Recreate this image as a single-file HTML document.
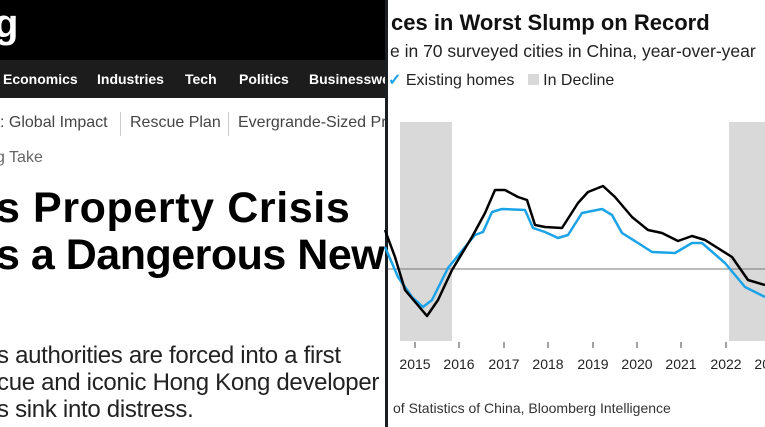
<!DOCTYPE html>
<html><head><style>
body{margin:0;width:765px;height:427px;overflow:hidden;background:#fff;font-family:"Liberation Sans",sans-serif;position:relative}
.a{position:absolute;white-space:nowrap}
</style></head><body>
<div class="a" style="left:0;top:0;width:386px;height:60px;background:#000"></div>
<div class="a" style="left:-6px;top:2px;color:#fff;font-size:40px;font-weight:bold">g</div>
<div class="a" style="left:0;top:60px;width:386px;height:38px;background:#1c1c1c"></div>
<div class="a" style="top:71px;left:3px;color:#fff;font-weight:bold;font-size:14px">Economics</div>
<div class="a" style="top:71px;left:97px;color:#fff;font-weight:bold;font-size:14px">Industries</div>
<div class="a" style="top:71px;left:185px;color:#fff;font-weight:bold;font-size:14px">Tech</div>
<div class="a" style="top:71px;left:239px;color:#fff;font-weight:bold;font-size:14px">Politics</div>
<div class="a" style="top:71px;left:309px;color:#fff;font-weight:bold;font-size:14px">Businesswe</div>
<div class="a" style="top:114px;left:0px;color:#444;font-size:16px">: Global Impact</div>
<div class="a" style="top:112px;left:120px;width:1px;height:24px;background:#ccc"></div>
<div class="a" style="top:114px;left:130px;color:#444;font-size:16px">Rescue Plan</div>
<div class="a" style="top:112px;left:228px;width:1px;height:24px;background:#ccc"></div>
<div class="a" style="top:114px;left:238px;color:#444;font-size:16px">Evergrande-Sized Pr</div>
<div class="a" style="top:149px;left:-4px;color:#666;font-size:16px">g Take</div>
<div class="a" style="top:185px;left:-4px;color:#000;font-size:43px;font-weight:bold;line-height:47px;letter-spacing:-0.5px"><span style="letter-spacing:0.6px">s Property Crisis</span><br>s a Dangerous New</div>
<div class="a" style="top:342px;left:-3px;color:#222;font-size:24px;line-height:27px;letter-spacing:-0.3px">s authorities are forced into a first<br>cue and iconic Hong Kong developer<br>s sink into distress.</div>
<div class="a" style="left:385px;top:0;width:3px;height:427px;background:#1a1f24"></div>
<div class="a" style="top:10px;left:391px;font-size:22px;font-weight:bold;color:#111">ces in Worst Slump on Record</div>
<div class="a" style="top:41px;left:390px;font-size:17.5px;color:#222">e in 70 surveyed cities in China, year-over-year</div>
<div class="a" style="top:70px;left:388px;font-size:16px;color:#222"><span style="color:#1ba3e8;font-weight:bold">✓</span> Existing homes &nbsp;&nbsp;<span style="display:inline-block;width:11px;height:11px;background:#d9d9d9"></span> In Decline</div>
<svg class="a" style="left:0;top:0" width="765" height="427">
<rect x="400" y="122" width="52" height="219" fill="#d9d9d9"/>
<rect x="729" y="122" width="40" height="219" fill="#d9d9d9"/>
<line x1="388" y1="269" x2="765" y2="269" stroke="#777" stroke-width="1"/>
<g stroke="#444" stroke-width="1">
<line x1="415" y1="342" x2="415" y2="348"/><line x1="459" y1="342" x2="459" y2="348"/><line x1="504" y1="342" x2="504" y2="348"/><line x1="548" y1="342" x2="548" y2="348"/><line x1="593" y1="342" x2="593" y2="348"/><line x1="637" y1="342" x2="637" y2="348"/><line x1="681" y1="342" x2="681" y2="348"/><line x1="726" y1="342" x2="726" y2="348"/>
</g>
<polyline fill="none" stroke="#1ba3e8" stroke-width="2.5" stroke-linejoin="round" points="385,247 398,277 412,297 423,307 432,300 448,268 465,247 475,235 483,232 492,212 502,209 525,210 533,228 545,232 558,238 568,235 582,213 602,209 612,215 622,233 638,243 652,252 675,253 692,243 702,243 725,263 745,287 765,297"/>
<polyline fill="none" stroke="#000" stroke-width="2.5" stroke-linejoin="round" points="385,230 395,257 405,290 427,316 438,300 452,270 472,237 485,213 495,190 505,190 518,197 527,200 535,225 545,227 562,228 578,203 588,192 603,186 615,197 632,217 648,230 662,233 678,241 692,236 705,240 732,257 748,280 765,285"/>
<g font-size="14" fill="#222" text-anchor="middle" font-family="Liberation Sans,sans-serif">
<text x="415" y="369">2015</text><text x="459" y="369">2016</text><text x="504" y="369">2017</text><text x="548" y="369">2018</text><text x="593" y="369">2019</text><text x="637" y="369">2020</text><text x="681" y="369">2021</text><text x="726" y="369">2022</text><text x="770" y="369">2023</text>
</g>
<text x="393" y="413" font-size="14" fill="#333" font-family="Liberation Sans,sans-serif">of Statistics of China, Bloomberg Intelligence</text>
</svg>
</body></html>
